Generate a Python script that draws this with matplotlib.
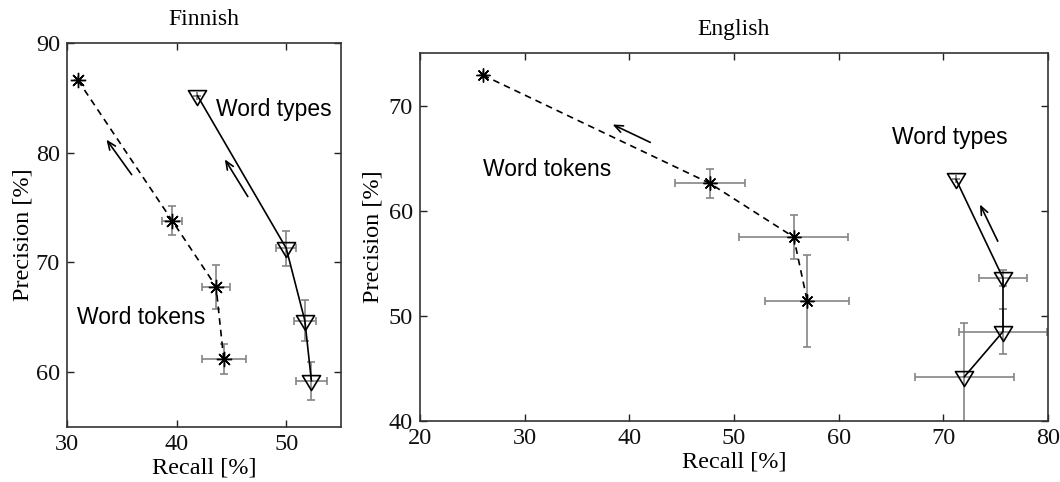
import matplotlib
matplotlib.use("Agg")
import matplotlib.pyplot as plt
from matplotlib.path import Path

# ---- data: recall / precision (%) with standard deviations ----
fin_tok_recall = [31.0, 39.6, 43.6, 44.3]
fin_tok_prec = [86.6, 73.8, 67.8, 61.2]
fin_tok_recall_err = [0.0, 0.9, 1.3, 2.0]
fin_tok_prec_err = [0.0, 1.3, 2.0, 1.4]

fin_typ_recall = [41.9, 50.0, 51.7, 52.3]
fin_typ_prec = [85.2, 71.3, 64.7, 59.2]
fin_typ_recall_err = [0.0, 0.9, 1.0, 1.4]
fin_typ_prec_err = [0.0, 1.6, 1.9, 1.7]

eng_tok_recall = [26.0, 47.7, 55.7, 57.0]
eng_tok_prec = [72.9, 62.6, 57.5, 51.4]
eng_tok_recall_err = [0.0, 3.35, 5.2, 4.0]
eng_tok_prec_err = [0.0, 1.35, 2.1, 4.35]

eng_typ_recall = [71.2, 75.7, 75.7, 72.0]
eng_typ_prec = [63.0, 53.6, 48.5, 44.2]
eng_typ_recall_err = [0.0, 2.3, 4.2, 4.75]
eng_typ_prec_err = [0.0, 0.8, 2.15, 5.1]

fin_xticks = [30, 40, 50]
fin_yticks = [60, 70, 80, 90]
eng_xticks = [20, 30, 40, 50, 60, 70, 80]
eng_yticks = [40, 50, 60, 70]

SERIF = "Liberation Serif"
SANS = "Liberation Sans"
ERR_COLOR = "#858585"

# open down-pointing triangle, reference point ~40% below the top edge
tri_marker = Path([(-1, 0.65), (1, 0.65), (0, -1.0), (-1, 0.65)],
                  [Path.MOVETO, Path.LINETO, Path.LINETO, Path.CLOSEPOLY])
asterisk = (8, 2, 0)

fig = plt.figure(figsize=(10.6, 4.82), dpi=100)
ax_f = fig.add_axes([67 / 1060, 55 / 482, 274 / 1060, 384 / 482])
ax_e = fig.add_axes([420 / 1060, 61 / 482, 628 / 1060, 368 / 482])


def draw_curve(ax, x, y, xerr, yerr, marker, ms, mew, ls):
    ax.errorbar(x, y, xerr=xerr, yerr=yerr, fmt="none", ecolor=ERR_COLOR,
                elinewidth=1.2, capsize=3, capthick=1.2, zorder=2)
    line_kw = dict(color="black", lw=1.2, zorder=3)
    if ls == "--":
        line_kw["dashes"] = (4, 3)
    else:
        line_kw["ls"] = "-"
    ax.plot(x, y, **line_kw)
    ax.plot(x, y, ls="none", marker=marker, ms=ms, mfc="none", mec="black",
            mew=mew, zorder=4)


def style_axes(ax, title, xlim, ylim, xticks, yticks, ylabelpad):
    ax.set_xlim(*xlim)
    ax.set_ylim(*ylim)
    ax.set_xticks(xticks)
    ax.set_yticks(yticks)
    ax.tick_params(direction="in", top=True, right=True, length=5, width=1,
                   pad=5, labelsize=17.5, colors="#222222", labelcolor="#111111")
    for lab in ax.get_xticklabels() + ax.get_yticklabels():
        lab.set_fontfamily(SERIF)
    for sp in ax.spines.values():
        sp.set_linewidth(1.2)
        sp.set_color("#333333")
    ax.set_xlabel("Recall [%]", fontfamily=SERIF, fontsize=17.5, labelpad=2)
    ax.set_ylabel("Precision [%]", fontfamily=SERIF, fontsize=17.5,
                  labelpad=ylabelpad)
    ax.set_title(title, fontfamily=SERIF, fontsize=17, pad=13)


def arrow(ax, start, end):
    ax.annotate("", xy=end, xytext=start,
                arrowprops=dict(arrowstyle="->,head_length=0.6,head_width=0.25",
                                lw=1.2, color="black", shrinkA=0, shrinkB=0))


# ---- Finnish ----
draw_curve(ax_f, fin_tok_recall, fin_tok_prec, fin_tok_recall_err,
           fin_tok_prec_err, asterisk, 11, 1.0, "--")
draw_curve(ax_f, fin_typ_recall, fin_typ_prec, fin_typ_recall_err,
           fin_typ_prec_err, tri_marker, 13, 1.2, "-")
arrow(ax_f, (35.9, 78.0), (33.6, 81.2))
arrow(ax_f, (46.5, 76.0), (44.4, 79.4))
ax_f.text(43.6, 83.9, "Word types", fontfamily=SANS, fontsize=16.5,
          ha="left", va="center")
ax_f.text(30.95, 65.0, "Word tokens", fontfamily=SANS, fontsize=16.5,
          ha="left", va="center")
style_axes(ax_f, "Finnish", (30, 55), (55, 90), fin_xticks, fin_yticks, 2)

# ---- English ----
draw_curve(ax_e, eng_tok_recall, eng_tok_prec, eng_tok_recall_err,
           eng_tok_prec_err, asterisk, 10, 1.0, "--")
draw_curve(ax_e, eng_typ_recall, eng_typ_prec, eng_typ_recall_err,
           eng_typ_prec_err, tri_marker, 13, 1.2, "-")
arrow(ax_e, (42.0, 66.5), (38.4, 68.2))
arrow(ax_e, (75.2, 57.1), (73.5, 60.6))
ax_e.text(26.05, 63.9, "Word tokens", fontfamily=SANS, fontsize=16.5,
          ha="left", va="center")
ax_e.text(65.05, 67.0, "Word types", fontfamily=SANS, fontsize=16.5,
          ha="left", va="center")
style_axes(ax_e, "English", (20, 80), (40, 75), eng_xticks, eng_yticks, 4)

fig.savefig("out.png", dpi=100)
